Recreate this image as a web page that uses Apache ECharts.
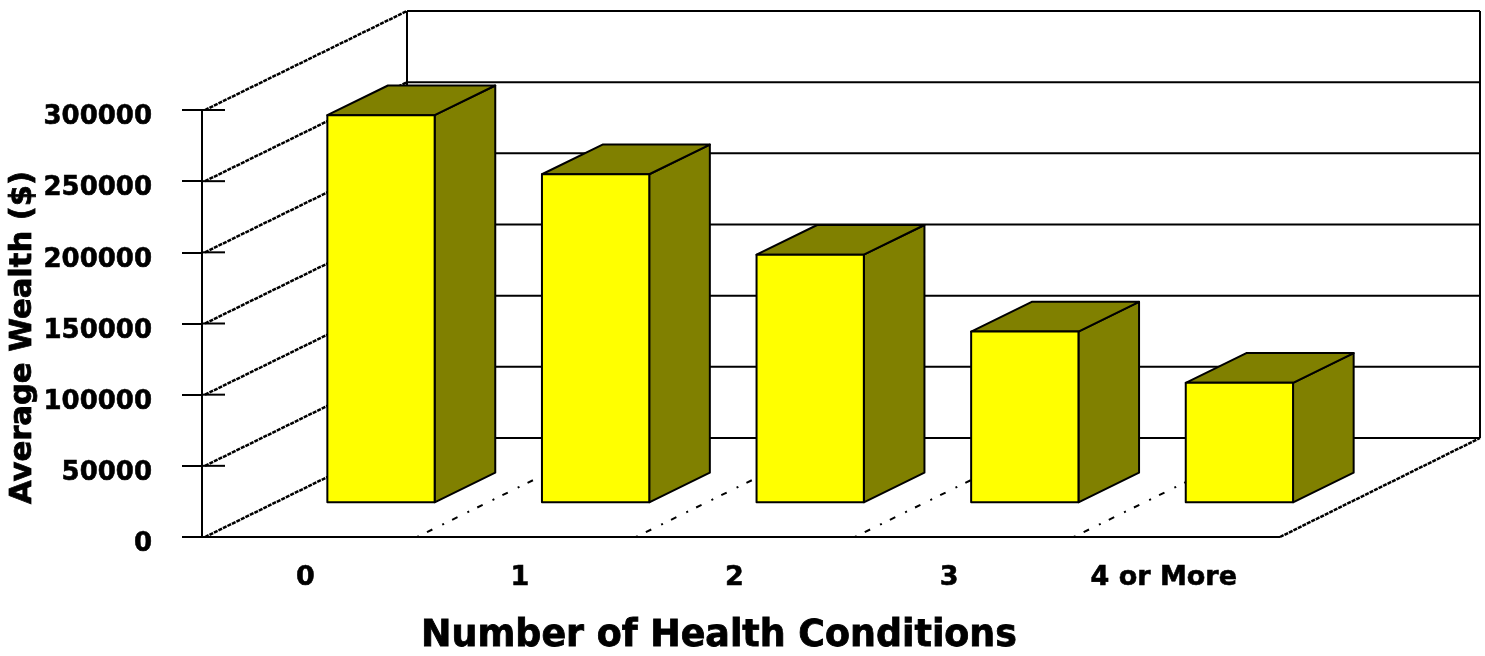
<!DOCTYPE html>
<html>
<head>
<meta charset="utf-8">
<style>html,body{margin:0;padding:0;background:#fff;overflow:hidden}#c{width:1485px;height:656px}</style>
<script src="https://cdn.jsdelivr.net/npm/echarts@6/dist/echarts.min.js"></script>
</head>
<body>
<div id="c"></div>
<script>
var categories = ['0', '1', '2', '3', '4 or More'];
var wealth = [272000, 230500, 174000, 120000, 84000];
var yTicks = [0, 50000, 100000, 150000, 200000, 250000, 300000];

var DEPTH_X = 202, DEPTH_Y = -99;
var BAR_FRONT = 0.35, BAR_DEPTH = 0.30, BAR_WIDTH = 0.5, BAR_SHIFT = 71.7;
var INK = '#000000', YELLOW = '#ffff00', OLIVE = '#808000';
var FONT = '"DejaVu Sans", sans-serif';

function line(x1, y1, x2, y2, dash, width) {
  return {
    type: 'line',
    shape: { x1: x1, y1: y1, x2: x2, y2: y2 },
    style: { stroke: INK, lineWidth: width || 2, lineDash: dash || null, fill: null }
  };
}
function poly(pts, fill) {
  return {
    type: 'polygon',
    shape: { points: pts },
    style: { fill: fill, stroke: INK, lineWidth: 2, lineJoin: 'round' }
  };
}

function renderWall(params, api) {
  var v = api.value(0);
  var p = api.coord([0, v]);
  var band = api.size([1, 0])[0];
  var left = p[0] - band / 2;
  var y = p[1];
  var wx = left + 3;
  var bx = wx + DEPTH_X, by = y + DEPTH_Y;
  var rightBack = wx + 1075 + DEPTH_X - 2;
  var kids = [
    line(left, y, left + 23, y),
    line(wx, y, bx, by, [4, 1], 2.5),
    line(bx, by, rightBack, by)
  ];
  if (v === 0) {
    var top = api.coord([0, 300000])[1] + DEPTH_Y;
    kids.push(line(bx, by, bx, top));
    kids.push(line(rightBack, by, rightBack, top));
    kids.push(line(wx + 1075, y, rightBack, by, [4, 1], 2.5));
    kids.push(line(left + band * 5 - 2, y, wx + 1075, y));
  }
  return { type: 'group', children: kids };
}

function renderFloor(params, api) {
  var i = api.value(0);
  var p = api.coord([i, 0]);
  var band = api.size([1, 0])[0];
  var x = p[0] - band / 2 + 0.5 + i * band * 0.02 + band;
  return line(x, p[1], x + DEPTH_X, p[1] + DEPTH_Y, [2, 9, 6, 11]);
}

function renderBar(params, api) {
  var i = api.value(0);
  var base = api.coord([i, 0]);
  var topP = api.coord([i, api.value(1)]);
  var band = api.size([1, 0])[0];
  var w = band * BAR_WIDTH;
  var x0 = base[0] + BAR_SHIFT - w / 2;
  var x1 = x0 + w;
  var lift = DEPTH_Y * BAR_FRONT;
  var yb = base[1] + lift, yt = topP[1] + lift;
  var dx = DEPTH_X * BAR_DEPTH, dy = DEPTH_Y * BAR_DEPTH;
  return {
    type: 'group',
    children: [
      poly([[x1, yb], [x1 + dx, yb + dy], [x1 + dx, yt + dy], [x1, yt]], OLIVE),
      poly([[x0, yt], [x1, yt], [x1 + dx, yt + dy], [x0 + dx, yt + dy]], OLIVE),
      poly([[x0, yt], [x1, yt], [x1, yb], [x0, yb]], YELLOW)
    ]
  };
}

var chart = echarts.init(document.getElementById('c'), null, { renderer: 'canvas' });
chart.setOption({
  animation: false,
  backgroundColor: '#ffffff',
  grid: { left: 202, top: 110, width: 1073, height: 427, containLabel: false, outerBoundsMode: 'none' },
  xAxis: {
    type: 'category',
    data: categories,
    boundaryGap: true,
    name: 'Number of Health Conditions',
    nameLocation: 'middle',
    nameGap: 82,
    nameMoveOverlap: false,
    nameTextStyle: { fontFamily: FONT, fontWeight: 'bold', fontSize: 36.4, color: INK, textBorderColor: INK, textBorderWidth: 0.8, padding: [0, 39, 0, 0] },
    axisLine: { show: true, lineStyle: { color: INK, width: 2 } },
    axisTick: { show: false },
    axisLabel: { fontFamily: FONT, fontWeight: 'bold', fontSize: 27, color: INK, textBorderColor: INK, textBorderWidth: 0.6, margin: 27, padding: [0, 8, 0, 0], interval: 0 }
  },
  yAxis: {
    type: 'value',
    min: 0,
    max: 300000,
    interval: 50000,
    name: 'Average Wealth ($)',
    nameLocation: 'middle',
    nameGap: 163,
    nameMoveOverlap: false,
    nameTextStyle: { fontFamily: FONT, fontWeight: 'bold', fontSize: 30.6, color: INK, textBorderColor: INK, textBorderWidth: 0.8, padding: [0, 28, 0, 0] },
    splitLine: { show: false },
    axisLine: { show: true, onZero: false, lineStyle: { color: INK, width: 2 } },
    axisTick: { show: true, length: 20, lineStyle: { color: INK, width: 2 } },
    axisLabel: {
      margin: 50,
      formatter: function (v) { return '{t|' + v + '}'; },
      rich: { t: { fontFamily: FONT, fontWeight: 'bold', fontSize: 26, color: INK, textBorderColor: INK, textBorderWidth: 0.6, padding: [15, 0, 0, 0] } }
    }
  },
  series: [
    {
      type: 'custom', name: 'wall', z: 1, silent: true, clip: false,
      data: yTicks.map(function (v) { return [v]; }),
      encode: { y: 0 },
      renderItem: renderWall
    },
    {
      type: 'custom', name: 'floor', z: 2, silent: true, clip: false,
      data: categories.slice(0, 4).map(function (c, i) { return [i]; }),
      encode: { x: 0 },
      renderItem: renderFloor
    },
    {
      type: 'custom', name: 'Average Wealth', z: 3, clip: false,
      data: wealth.map(function (v, i) { return [i, v]; }),
      encode: { x: 0, y: 1 },
      renderItem: renderBar
    }
  ]
});
</script>
</body>
</html>
